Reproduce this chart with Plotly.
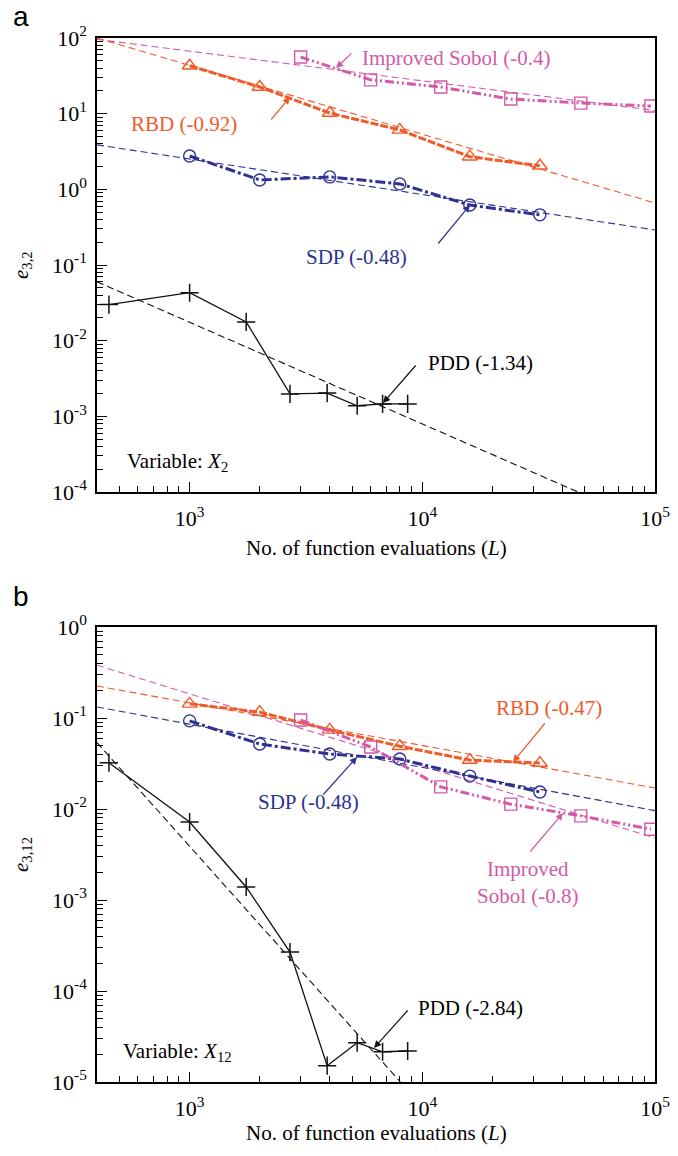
import plotly.graph_objects as go

# ── DATA ──────────────────────────────────────────────────────────────────────

# sample sizes (L)
L_SOBOL = [3000, 6000, 12000, 24000, 48000, 96000]
L_MC = [1000, 2000, 4000, 8000, 16000, 32000]
L_PDD = [450, 1000, 1750, 2700, 3900, 5250, 6750, 8650]

# panel a: e_{3,2}
A_SOBOL = [56, 28, 22.5, 15.6, 13.8, 12.6]
A_RBD = [43, 22.5, 10.2, 6.1, 2.7, 2.05]
A_SDP = [2.76, 1.33, 1.46, 1.18, 0.62, 0.46]
A_PDD = [0.030, 0.043, 0.0177, 0.00198, 0.00203, 0.00138, 0.00146, 0.00146]

# panel b: e_{3,12}
B_SOBOL = [0.095, 0.048, 0.0175, 0.0113, 0.0084, 0.0060]
B_RBD = [0.143, 0.116, 0.074, 0.049, 0.0345, 0.032]
B_SDP = [0.093, 0.0518, 0.0402, 0.0354, 0.0230, 0.0154]
B_PDD = [0.0323, 0.0072, 0.00139, 2.68e-4, 1.51e-5, 2.70e-5, 2.15e-5, 2.19e-5]

# fitted convergence lines (end points)
FIT_L = [400, 100000]
A_FIT_SOBOL = [96, 11]
A_FIT_RBD = [100, 0.66]
A_FIT_SDP = [3.87, 0.29]
A_FIT_PDD_L = [400, 46700]
A_FIT_PDD = [0.060, 1e-4]
B_FIT_SOBOL = [0.38, 0.0048]
B_FIT_RBD = [0.225, 0.017]
B_FIT_SDP = [0.132, 0.0096]
B_FIT_PDD_L = [400, 8050]
B_FIT_PDD = [0.0536, 1e-5]

X_TICKS = [1e3, 1e4, 1e5]
X_TICKTEXT = ["10<sup>3</sup>", "10<sup>4</sup>", "10<sup>5</sup>"]
A_Y_EXP = [-4, -3, -2, -1, 0, 1, 2]
B_Y_EXP = [-5, -4, -3, -2, -1, 0]

# ── STYLE ─────────────────────────────────────────────────────────────────────

W, H = 678, 1156
SERIF = "Liberation Serif"
MAGENTA = "#D35AA8"
ORANGE = "#F05A28"
BLUE = "#2E3192"
BLACK = "#111111"


def px(x, y):
    """pixel position -> paper coords"""
    return x / W, 1 - y / H


fig = go.Figure()


def add_panel(xa, ya, sobol, rbd, sdp, pdd, fits):
    fs, fr, fd, (fpl, fp) = fits
    # thin dashed fit lines
    for xs, ys, col in [(FIT_L, fs, MAGENTA), (FIT_L, fr, ORANGE), (FIT_L, fd, BLUE), (fpl, fp, BLACK)]:
        fig.add_trace(go.Scatter(x=xs, y=ys, mode="lines", xaxis=xa, yaxis=ya,
                                 line=dict(color=col, width=1.1, dash="7px,4px"),
                                 showlegend=False, hoverinfo="skip"))
    fig.add_trace(go.Scatter(x=L_MC, y=rbd, mode="lines+markers", xaxis=xa, yaxis=ya,
                             line=dict(color=ORANGE, width=3, dash="8px,2px"),
                             marker=dict(symbol="triangle-up-open", size=13, color=ORANGE,
                                         line=dict(width=1.4)), showlegend=False))
    fig.add_trace(go.Scatter(x=L_MC, y=sdp, mode="lines+markers", xaxis=xa, yaxis=ya,
                             line=dict(color=BLUE, width=3, dash="10px,3px,3px,3px"),
                             marker=dict(symbol="circle-open", size=12, color=BLUE,
                                         line=dict(width=1.4)), showlegend=False))
    fig.add_trace(go.Scatter(x=L_SOBOL, y=sobol, mode="lines+markers", xaxis=xa, yaxis=ya,
                             line=dict(color=MAGENTA, width=3, dash="9px,3px,2px,3px,2px,3px"),
                             marker=dict(symbol="square-open", size=12, color=MAGENTA,
                                         line=dict(width=1.4)), showlegend=False))
    fig.add_trace(go.Scatter(x=L_PDD, y=pdd, mode="lines+markers", xaxis=xa, yaxis=ya,
                             line=dict(color=BLACK, width=1.3),
                             marker=dict(symbol="cross-thin-open", size=13, color=BLACK,
                                         line=dict(width=1.5, color=BLACK)), showlegend=False))


add_panel("x", "y", A_SOBOL, A_RBD, A_SDP, A_PDD,
          (A_FIT_SOBOL, A_FIT_RBD, A_FIT_SDP, (A_FIT_PDD_L, A_FIT_PDD)))
add_panel("x2", "y2", B_SOBOL, B_RBD, B_SDP, B_PDD,
          (B_FIT_SOBOL, B_FIT_RBD, B_FIT_SDP, (B_FIT_PDD_L, B_FIT_PDD)))

axis_common = dict(
    type="log", showline=True, linecolor="black", linewidth=1.5, mirror=True,
    showgrid=False, zeroline=False, ticks="inside", ticklen=10, tickwidth=1.2,
    tickcolor="black", tickfont=dict(family=SERIF, size=22, color="black"),
    minor=dict(ticks="inside", ticklen=6, tickwidth=1, tickcolor="black",
               dtick="D1", showgrid=False),
    automargin=False,
)

x_dom = [97 / W, 655 / W]
xaxis_kw = dict(axis_common, range=[2.602, 5], domain=x_dom, tickmode="array",
                tickvals=X_TICKS, ticktext=X_TICKTEXT, ticklabelstandoff=6)

fig.update_layout(
    xaxis=dict(xaxis_kw, anchor="y"),
    xaxis2=dict(xaxis_kw, anchor="y2"),
    yaxis=dict(axis_common, range=[-4, 2], domain=[1 - 492 / H, 1 - 38 / H], anchor="x",
               tickmode="array", tickvals=[10 ** e for e in A_Y_EXP],
               ticktext=["10<sup>%d</sup>" % e for e in A_Y_EXP], ticklabelstandoff=4),
    yaxis2=dict(axis_common, range=[-5, 0], domain=[1 - 1082 / H, 1 - 627 / H], anchor="x2",
                tickmode="array", tickvals=[10 ** e for e in B_Y_EXP],
                ticktext=["10<sup>%d</sup>" % e for e in B_Y_EXP], ticklabelstandoff=4),
    width=W, height=H,
    # keep the paper exactly the window size (no auto-expanding margins)
    margin=dict(l=0, r=0, t=0, b=0, autoexpand=False),
    plot_bgcolor="white", paper_bgcolor="white",
    showlegend=False,
)

# ── TEXT ──────────────────────────────────────────────────────────────────────

labels = [
    # (text, x, y, color, size, family, angle)
    ("a", 21, 17, "black", 28, "Liberation Sans", 0),
    ("b", 21, 596, "black", 28, "Liberation Sans", 0),
    ("<i>e</i><sub>3,2</sub>", 22, 265, "black", 21, SERIF, -90),
    ("<i>e</i><sub>3,12</sub>", 22, 855, "black", 21, SERIF, -90),
    ("No. of function evaluations (<i>L</i>)", 376, 548, "black", 21, SERIF, 0),
    ("No. of function evaluations (<i>L</i>)", 376, 1133, "black", 21, SERIF, 0),
    ("Improved Sobol (-0.4)", 456, 58, MAGENTA, 21, SERIF, 0),
    ("RBD (-0.92)", 184, 124, ORANGE, 21, SERIF, 0),
    ("SDP (-0.48)", 356, 257, BLUE, 21, SERIF, 0),
    ("PDD (-1.34)", 480, 363, "black", 21, SERIF, 0),
    ("Variable: <i>X</i><sub>2</sub>", 177, 462, "black", 21, SERIF, 0),
    ("RBD (-0.47)", 549, 708, ORANGE, 21, SERIF, 0),
    ("SDP (-0.48)", 308, 802, BLUE, 21, SERIF, 0),
    ("Improved<br>Sobol (-0.8)", 528, 882, MAGENTA, 21, SERIF, 0),
    ("PDD (-2.84)", 470, 1008, "black", 21, SERIF, 0),
    ("Variable: <i>X</i><sub>12</sub>", 177, 1052, "black", 21, SERIF, 0),
]
for text, x, y, col, size, fam, ang in labels:
    xp, yp = px(x, y)
    fig.add_annotation(text=text, x=xp, y=yp, xref="paper", yref="paper",
                       showarrow=False, xanchor="center", yanchor="middle",
                       textangle=ang, font=dict(family=fam, size=size, color=col))

arrows = [
    # (tip x, tip y, tail x, tail y, color)
    (336, 68, 353, 52, MAGENTA),
    (290, 97, 270, 121, ORANGE),
    (470, 205, 437, 245, BLUE),
    (383, 403, 417, 364, BLACK),
    (513, 762, 546, 722, ORANGE),
    (357, 757, 322, 796, BLUE),
    (563, 813, 529, 853, MAGENTA),
    (374, 1048, 409, 1009, BLACK),
]
for tx, ty, sx, sy, col in arrows:
    xp, yp = px(tx, ty)
    fig.add_annotation(text="", x=xp, y=yp, xref="paper", yref="paper",
                       ax=sx - tx, ay=sy - ty, showarrow=True, arrowhead=2,
                       arrowsize=1.2, arrowwidth=1.2, arrowcolor=col)

# drop the default page margin so the figure fills the window exactly
fig.write_html("out.html", config={"displayModeBar": False},
               post_script="document.body.style.margin='0';")
